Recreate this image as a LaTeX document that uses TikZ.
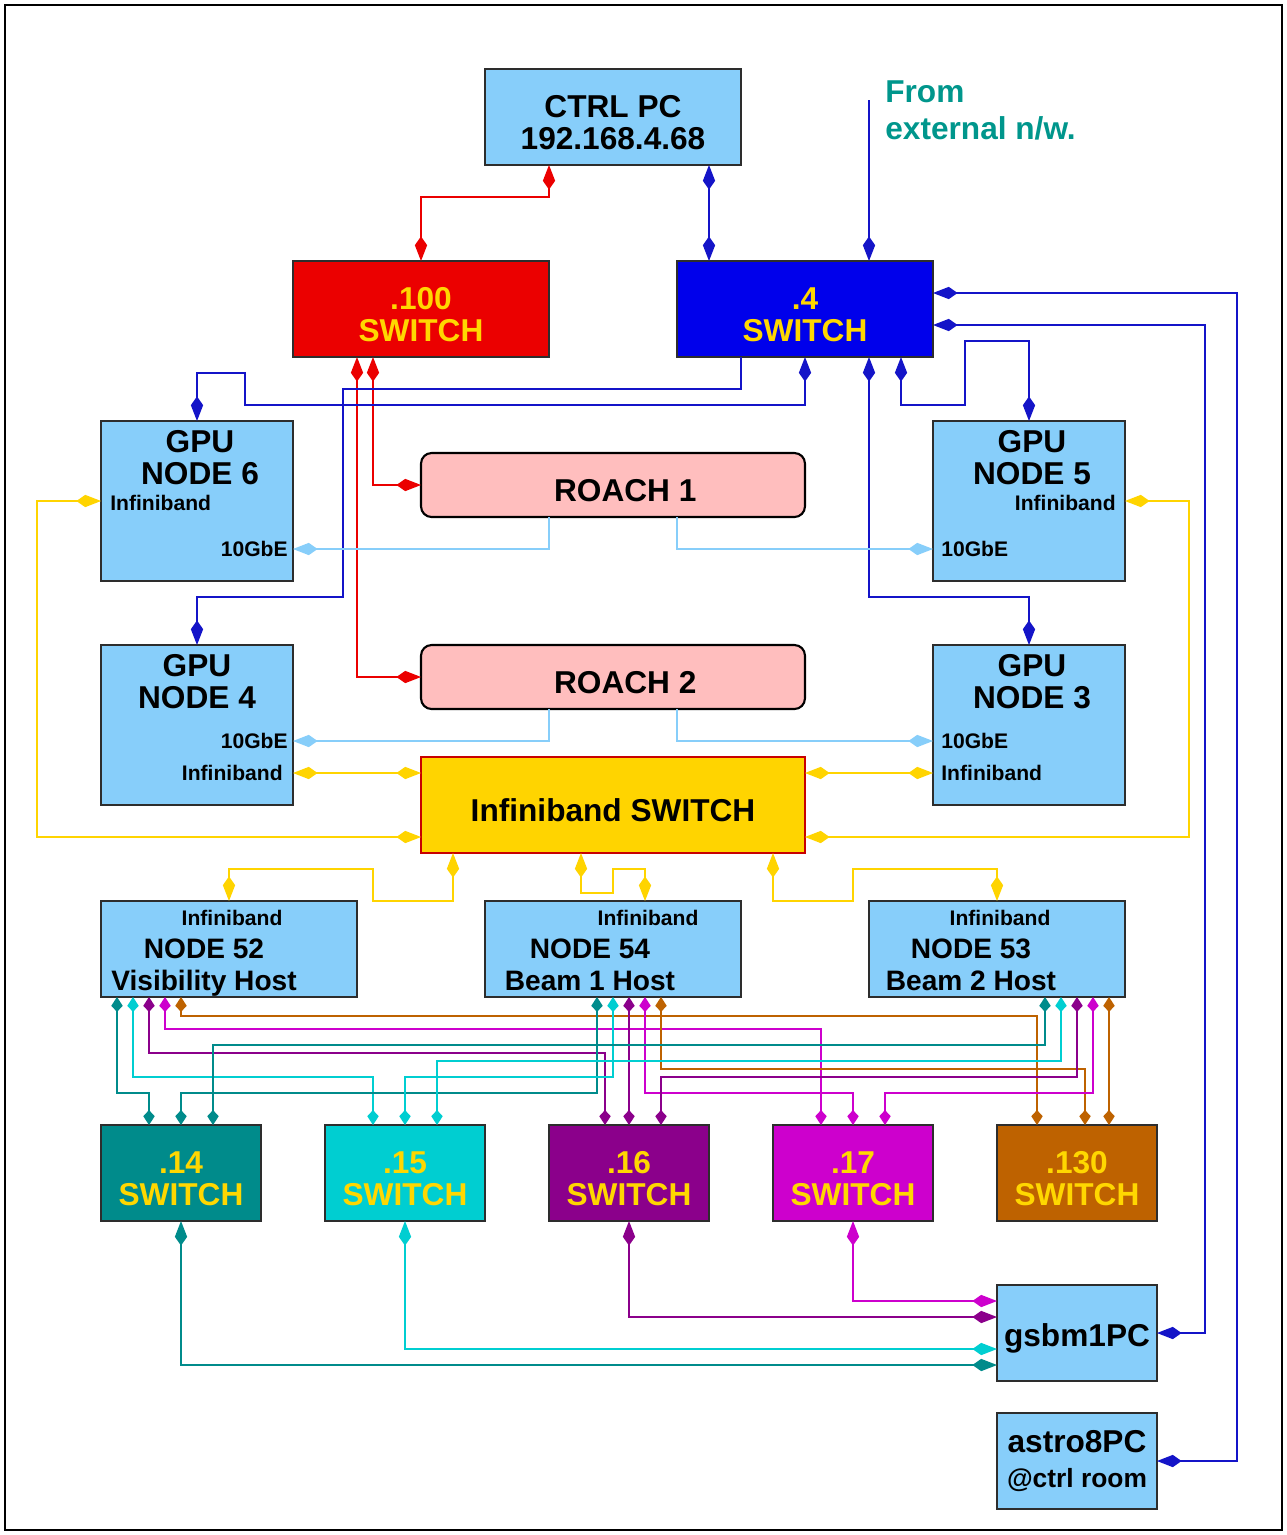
\documentclass[tikz,border=0pt]{standalone}
\usepackage{fontspec}
\setmainfont{Liberation Sans}
\usetikzlibrary{arrows.meta,positioning,calc}

\definecolor{skyb}{RGB}{135,206,250}
\definecolor{edge}{RGB}{45,45,45}
\definecolor{swtxt}{RGB}{255,215,0}
\definecolor{netred}{RGB}{235,0,0}
\definecolor{netblue}{RGB}{0,0,235}
\definecolor{lineblue}{RGB}{20,20,200}
\definecolor{ibgold}{RGB}{255,212,0}
\definecolor{roachc}{RGB}{255,190,190}
\definecolor{c14}{RGB}{0,139,139}
\definecolor{c15}{RGB}{0,206,209}
\definecolor{c16}{RGB}{139,0,139}
\definecolor{c17}{RGB}{205,0,205}
\definecolor{c130}{RGB}{190,98,0}
\definecolor{exttxt}{RGB}{0,150,140}

\newcommand{\fbig}{\bfseries\fontsize{18}{18.2}\selectfont}
\newcommand{\fmid}{\bfseries\fontsize{16}{18.2}\selectfont}
\newcommand{\fsml}{\bfseries\fontsize{12}{13}\selectfont}
% pushes box text a little lower
\newcommand{\lowr}{\rule{0pt}{19pt}}

\begin{document}
\begin{tikzpicture}[x=0.02cm, y=-0.02cm,
    pc/.style={draw=edge, fill=skyb, line width=1.2pt, inner sep=0pt, outer sep=0pt, minimum width=5.12cm, minimum height=1.92cm, align=center, font=\fbig},
    gpu/.style={pc, minimum width=3.84cm, minimum height=3.2cm},
    sw/.style={pc, fill=#1, text=swtxt},
    swb/.style={sw=#1, minimum width=3.2cm},
    roach/.style={pc, fill=roachc, draw=black, rounded corners=6pt, minimum width=7.68cm, minimum height=1.28cm},
    ib/.style={pc, fill=ibgold, draw=netred!85!black, minimum width=7.68cm},
    txt/.style={inner sep=0pt, font=\fbig, align=center},
    port/.style={inner sep=0pt, font=\fsml},
    lnk/.style={{Kite[length=14pt,width=7pt,inset=5pt]}-{Kite[length=14pt,width=7pt,inset=5pt]}, line width=1pt},
    lnkend/.style={-{Kite[length=14pt,width=7pt,inset=5pt]}, line width=1pt},
    plnk/.style={{Kite[length=8.5pt,width=6.5pt,inset=3.5pt]}-{Kite[length=8.5pt,width=6.5pt,inset=3.5pt]}, line width=0.9pt}
]
\useasboundingbox (0,0) rectangle (1287,1535);
\draw[line width=1pt] (5,5) rectangle (1282,1530);

% control PC and top switches
\node[pc] (ctrl) at (613,117) {\lowr CTRL PC\\192.168.4.68};
\node[sw=netred] (s100) at (421,309) {\lowr.100\\SWITCH};
\node[sw=netblue] (s4) at (805,309) {\lowr.4\\SWITCH};
\node[txt, text=exttxt, align=left, anchor=west, font=\bfseries\fontsize{18}{21}\selectfont] (ext) at (885,110) {From\\external n/w.};
\coordinate (extin) at (869,100);

% GPU nodes
\node[gpu] (g6) at (197,501) {};
\node[txt] (g6t) at ($(g6)+(3,-43)$) {GPU\\NODE 6};
\node[port, anchor=west] (g6ib) at ($(g6.west)+(9,2)$) {Infiniband};
\node[port, anchor=east] (g6ge) at ($(g6.east)+(-5,48)$) {10GbE};

\node[gpu] (g5) at (1029,501) {};
\node[txt] (g5t) at ($(g5)+(3,-43)$) {GPU\\NODE 5};
\node[port, anchor=east] (g5ib) at ($(g5.east)+(-9,2)$) {Infiniband};
\node[port, anchor=west] (g5ge) at ($(g5.west)+(8,48)$) {10GbE};

\node[gpu] (g4) at (197,725) {};
\node[txt] (g4t) at ($(g4)+(0,-43)$) {GPU\\NODE 4};
\node[port, anchor=east] (g4ge) at ($(g4.east)+(-5,16)$) {10GbE};
\node[port, anchor=east] (g4ib) at ($(g4.east)+(-10,48)$) {Infiniband};

\node[gpu] (g3) at (1029,725) {};
\node[txt] (g3t) at ($(g3)+(3,-43)$) {GPU\\NODE 3};
\node[port, anchor=west] (g3ge) at ($(g3.west)+(8,16)$) {10GbE};
\node[port, anchor=west] (g3ib) at ($(g3.west)+(8,48)$) {Infiniband};

% ROACH boards and infiniband switch
\node[roach] (r1) at (613,485) {\lowr\hspace{14pt}ROACH 1};
\node[roach] (r2) at (613,677) {\lowr\hspace{14pt}ROACH 2};
\node[ib] (ibs) at (613,805) {\lowr Infiniband SWITCH};

% host nodes
\node[pc] (n52) at (229,949) {};
\node[port] (n52ib) at ($(n52)+(3,-31)$) {Infiniband};
\node[txt, font=\fmid] (n52t) at ($(n52)+(-25,19)$) {NODE 52\\Visibility Host};

\node[pc] (n54) at (613,949) {};
\node[port] (n54ib) at ($(n54)+(35,-31)$) {Infiniband};
\node[txt, font=\fmid] (n54t) at ($(n54)+(-23,16)$) {NODE 54\\Beam 1 Host};

\node[pc] (n53) at (997,949) {};
\node[port] (n53ib) at ($(n53)+(3,-31)$) {Infiniband};
\node[txt, font=\fmid] (n53t) at ($(n53)+(-26,16)$) {NODE 53\\Beam 2 Host};

% beam switches and PCs
\node[swb=c14] (s14) at (181,1173) {\lowr.14\\SWITCH};
\node[swb=c15] (s15) at (405,1173) {\lowr.15\\SWITCH};
\node[swb=c16] (s16) at (629,1173) {\lowr.16\\SWITCH};
\node[swb=c17] (s17) at (853,1173) {\lowr.17\\SWITCH};
\node[swb=c130] (s130) at (1077,1173) {\lowr.130\\SWITCH};
\node[pc, minimum width=3.2cm] (gsbm) at (1077,1333) {\lowr gsbm1PC};
\node[pc, minimum width=3.2cm] (astro) at (1077,1461) {astro8PC\\[2pt]{\bfseries\fontsize{15}{16}\selectfont @ctrl room}};

% control network
\draw[lnk, netred] (ctrl.south -| 549,0) |- (421,197) -- (s100.north -| 421,0);
\draw[lnk, lineblue] (ctrl.south -| 709,0) -- (s4.north -| 709,0);
\draw[lnkend, lineblue] (extin) -- (s4.north -| extin);
\draw[lnk, netred] (s100.south -| 373,0) |- (r1.west);
\draw[lnk, netred] (s100.south -| 357,0) |- (r2.west);
\draw[lnk, lineblue] (g6.north) |- (245,373) |- (805,405) -- (s4.south);
\draw[lnkend, lineblue] (s4.south -| 741,0) |- (343,389) |- (197,597) -- (g4.north);
\draw[lnk, lineblue] (s4.south -| 869,0) |- (1029,597) -- (g3.north);
\draw[lnk, lineblue] (s4.south -| 901,0) |- (965,405) |- (1029,341) -- (g5.north);
\draw[lnk, lineblue] (s4.east |- 0,293) -| (1237,1461) -- (astro.east);
\draw[lnk, lineblue] (s4.east |- 0,325) -| (1205,1333) -- (gsbm.east);

% 10GbE
\draw[lnkend, skyb] (r1.south -| 549,0) |- (g6.east |- 0,549);
\draw[lnkend, skyb] (r1.south -| 677,0) |- (g5.west |- 0,549);
\draw[lnkend, skyb] (r2.south -| 549,0) |- (g4.east |- 0,741);
\draw[lnkend, skyb] (r2.south -| 677,0) |- (g3.west |- 0,741);

% infiniband
\draw[lnk, ibgold] (g4.east |- 0,773) -- (ibs.west |- 0,773);
\draw[lnk, ibgold] (g3.west |- 0,773) -- (ibs.east |- 0,773);
\draw[lnk, ibgold] (g6.west) -| (37,837) -- (ibs.west |- 0,837);
\draw[lnk, ibgold] (g5.east) -| (1189,837) -- (ibs.east |- 0,837);
\draw[lnk, ibgold] (ibs.south -| 453,0) |- (373,901) |- (229,869) -- (n52.north);
\draw[lnk, ibgold] (ibs.south -| 581,0) |- (613,893) |- (645,869) -- (n54.north -| 645,0);
\draw[lnk, ibgold] (ibs.south -| 773,0) |- (853,901) |- (997,869) -- (n53.north);

% hosts to beam switches
\draw[plnk, c14] (n52.south -| 117,0) |- (149,1093) -- (s14.north -| 149,0);
\draw[plnk, c15] (n52.south -| 133,0) |- (373,1077) -- (s15.north -| 373,0);
\draw[plnk, c16] (n52.south -| 149,0) |- (605,1053) -- (s16.north -| 605,0);
\draw[plnk, c17] (n52.south -| 165,0) |- (821,1029) -- (s17.north -| 821,0);
\draw[plnk, c130] (n52.south -| 181,0) |- (1037,1016) -- (s130.north -| 1037,0);

\draw[plnk, c14] (n54.south -| 597,0) |- (181,1093) -- (s14.north -| 181,0);
\draw[plnk, c15] (n54.south -| 613,0) |- (405,1077) -- (s15.north -| 405,0);
\draw[plnk, c16] (n54.south -| 629,0) -- (s16.north -| 629,0);
\draw[plnk, c17] (n54.south -| 645,0) |- (853,1093) -- (s17.north -| 853,0);
\draw[plnk, c130] (n54.south -| 661,0) |- (1085,1069) -- (s130.north -| 1085,0);

\draw[plnk, c14] (n53.south -| 1045,0) |- (213,1045) -- (s14.north -| 213,0);
\draw[plnk, c15] (n53.south -| 1061,0) |- (437,1061) -- (s15.north -| 437,0);
\draw[plnk, c16] (n53.south -| 1077,0) |- (661,1077) -- (s16.north -| 661,0);
\draw[plnk, c17] (n53.south -| 1093,0) |- (885,1093) -- (s17.north -| 885,0);
\draw[plnk, c130] (n53.south -| 1109,0) -- (s130.north -| 1109,0);

% beam switches to gsbm1PC
\draw[lnk, c14] (s14.south) |- (gsbm.west |- 0,1365);
\draw[lnk, c15] (s15.south) |- (gsbm.west |- 0,1349);
\draw[lnk, c16] (s16.south) |- (gsbm.west |- 0,1317);
\draw[lnk, c17] (s17.south) |- (gsbm.west |- 0,1301);
\end{tikzpicture}
\end{document}
